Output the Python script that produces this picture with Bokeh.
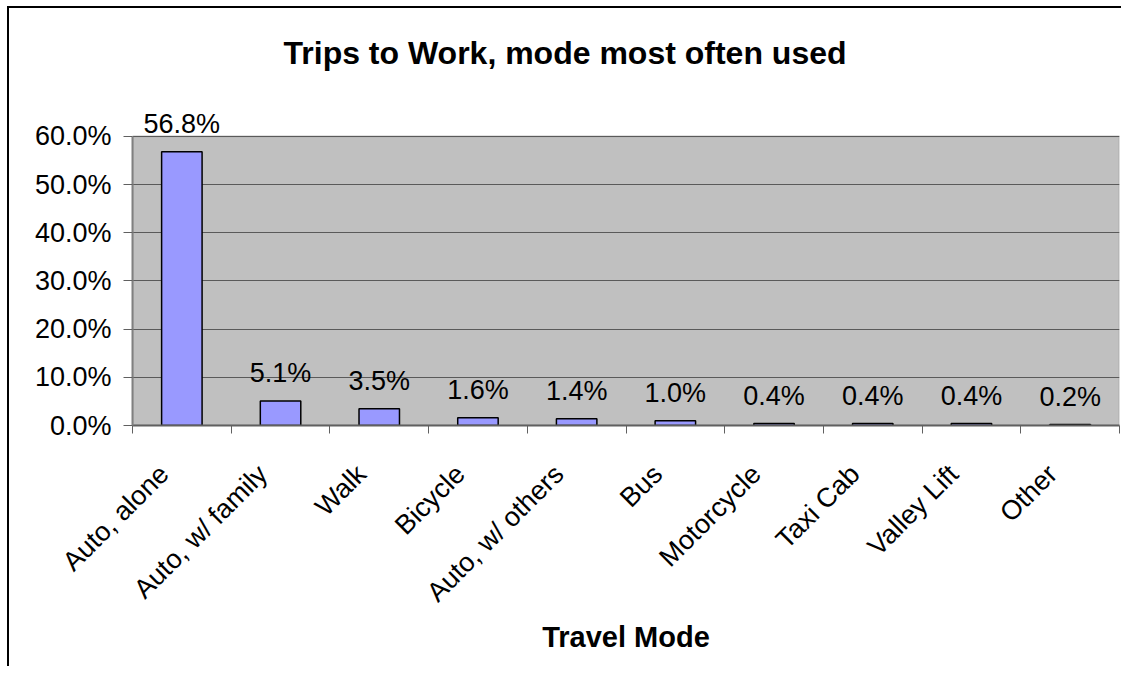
import numpy as np
from bokeh.plotting import figure
from bokeh.models import (ColumnDataSource, FixedTicker, PrintfTickFormatter,
                          LabelSet, Range1d, BoxAnnotation)
from bokeh.core.properties import value
from bokeh.embed import file_html
from bokeh.resources import INLINE

categories = ["Auto, alone", "Auto, w/ family", "Walk", "Bicycle", "Auto, w/ others",
              "Bus", "Motorcycle", "Taxi Cab", "Valley Lift", "Other"]
shares = [56.8, 5.1, 3.5, 1.6, 1.4, 1.0, 0.4, 0.4, 0.4, 0.2]
y_ticks = [0, 10, 20, 30, 40, 50, 60]

FONT = "Liberation Sans"

n = len(categories)
xpos = np.arange(n) + 0.5
src = ColumnDataSource(dict(x=xpos, top=shares, cat=categories,
                            lbl=["%.1f%%" % v for v in shares]))

y_top = max(y_ticks)
# frame extends above the plot area so the top data label is not clipped
y_end = y_top * 332 / 290

p = figure(width=1114, height=660, output_backend="svg", toolbar_location=None,
           x_range=Range1d(0, n), y_range=Range1d(0, y_end),
           min_border_left=123, min_border_right=4, min_border_top=85,
           min_border_bottom=243)
p.styles = {"margin-left": "7px", "margin-top": "6px",
            "border-left": "2px solid black", "border-top": "2px solid black"}

p.background_fill_color = "white"
p.border_fill_color = "white"
p.outline_line_color = None

plot_area = BoxAnnotation(left=0, right=n, bottom=0, top=y_top,
                          fill_color="#C0C0C0", fill_alpha=1.0,
                          line_color="#808080", line_width=2, level="image")
p.add_layout(plot_area)

p.vbar(x="x", top="top", bottom=0, width=0.41, source=src,
       fill_color="#9999FF", line_color="black", line_width=1.5)

labels = LabelSet(x="x", y="top", text="lbl", source=src, text_align="center",
                  text_baseline="alphabetic", y_offset=19,
                  text_font=value(FONT), text_font_size=value("27px"),
                  text_color="black")
p.add_layout(labels)

# title
p.title.text = "Trips to Work, mode most often used"
p.title.text_font = FONT
p.title.text_font_size = "32px"
p.title.text_font_style = "bold"
p.title.text_color = "black"
p.title.align = "left"
p.title.offset = 151
p.title.standoff = 48

# y axis
p.yaxis.ticker = FixedTicker(ticks=y_ticks)
p.yaxis.bounds = (0, y_top)
p.yaxis.formatter = PrintfTickFormatter(format="%.1f%%")
p.yaxis.major_label_text_font = FONT
p.yaxis.major_label_text_font_size = "27px"
p.yaxis.major_label_text_color = "black"
p.yaxis.major_tick_out = 9
p.yaxis.major_tick_in = 0
p.yaxis.minor_tick_line_color = None
p.yaxis.major_tick_line_color = "#606060"
p.yaxis.axis_line_color = "#808080"
p.yaxis.axis_line_width = 2
p.yaxis.major_label_standoff = 12

# x axis: boundary ticks as minor ticks, rotated labels anchored slightly left of centre
label_pos = xpos - 0.18
p.xaxis.ticker = FixedTicker(ticks=list(label_pos), minor_ticks=list(range(n + 1)))
p.xaxis.major_label_overrides = {float(x): c for x, c in zip(label_pos, categories)}
p.xaxis.major_label_orientation = np.pi / 4
p.xaxis.major_label_text_font = FONT
p.xaxis.major_label_text_font_size = "27px"
p.xaxis.major_label_text_color = "black"
p.xaxis.major_tick_line_color = None
p.xaxis.minor_tick_out = 8
p.xaxis.minor_tick_in = 0
p.xaxis.minor_tick_line_color = "#606060"
p.xaxis.axis_line_color = "#606060"
p.xaxis.axis_line_width = 2
p.xaxis.major_label_standoff = 36
p.xaxis.axis_label = "Travel Mode"
p.xaxis.axis_label_text_font = FONT
p.xaxis.axis_label_text_font_size = "29px"
p.xaxis.axis_label_text_font_style = "bold"
p.xaxis.axis_label_text_color = "black"
p.xaxis.axis_label_standoff = 0

p.xgrid.grid_line_color = None
p.ygrid.ticker = FixedTicker(ticks=y_ticks)
p.ygrid.grid_line_color = "#5a5a5a"
p.ygrid.grid_line_width = 1.2

open("out.html", "w").write(file_html(p, INLINE))
